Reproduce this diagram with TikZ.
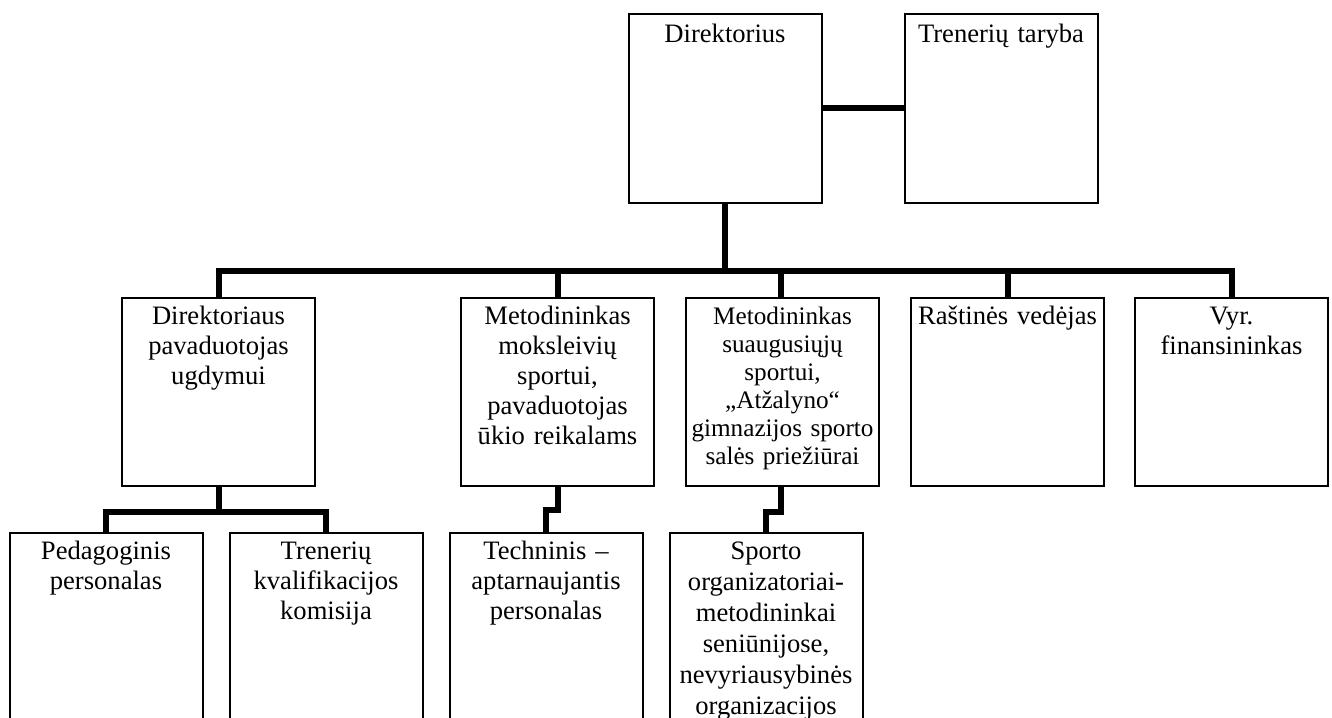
\documentclass[tikz,border=0pt]{standalone}
\usepackage{fontspec}
\setmainfont{Liberation Serif}
\usetikzlibrary{positioning}

\tikzset{
  unitbox/.style={draw, line width=1pt, inner xsep=0pt, inner ysep=0pt,
    text width=96.5pt, align=center, font=\fontsize{13.3}{15}\selectfont},
  topbox/.style={unitbox, text height=14.5pt, text depth=80pt},
  midbox/.style={unitbox, text height=13pt, text depth=81pt},
  lowbox/.style={unitbox, text height=13pt, text depth=97pt},
  link/.style={line width=3pt}
}

\begin{document}
\begin{tikzpicture}[x=0.5pt,y=-0.5pt]
  \useasboundingbox (0,0) rectangle (1332,717);
  \clip (0,0) rectangle (1332,717);

  \node[topbox, anchor=north] (Dir)    at (725,13)      {Direktorius};
  \node[topbox]               (Taryba) [right=40.5pt of Dir] {Trenerių taryba};

  \node[midbox, anchor=north] (Pav)  at (218.5,297)   {Direktoriaus\\ pavaduotojas\\ ugdymui};
  \node[midbox, anchor=north] (Mok)  at (557.5,297)   {Metodininkas\\ moksleivių\\ sportui,\\ pavaduotojas\\ ūkio reikalams};
  \node[midbox, font=\fontsize{12.6}{14}\selectfont]
                              (Sua)  [right=15pt of Mok]   {Metodininkas\\ suaugusiųjų\\ sportui,\\ „Atžalyno“\\ gimnazijos sporto\\ salės priežiūrai};
  \node[midbox]               (Rast) [right=15pt of Sua]   {Raštinės vedėjas};
  \node[midbox]               (Fin)  [right=14.5pt of Rast] {Vyr.\\ finansininkas};

  \node[lowbox, anchor=north] (Ped)  at (106,532)     {Pedagoginis\\ personalas};
  \node[lowbox]               (Kom)  [right=12.5pt of Ped]  {Trenerių\\ kvalifikacijos\\ komisija};
  \node[lowbox]               (Tech) [right=12.5pt of Kom]  {Techninis –\\ aptarnaujantis\\ personalas};
  \node[lowbox, font=\fontsize{13.3}{15.5}\selectfont]
                              (Org)  [right=12.5pt of Tech] {Sporto\\ organizatoriai-\\ metodininkai\\ seniūnijose,\\ nevyriausybinės\\ organizacijos};

  \coordinate (Bus) at (725,271);

  \draw[link] (Dir) -- (Taryba);
  \draw[link] (Dir) -- (Bus);
  \draw[link] (Pav) |- (Bus) -| (Fin);
  \foreach \n in {Mok,Rast}
    \draw[link] (\n) -- (\n |- Bus);
  \draw[link] ([xshift=-1pt]Sua.north) -- ([xshift=-1pt]Sua.north |- Bus);

  \draw[link] (Pav.south) -- ++(0,25) coordinate (Sub);
  \draw[link] (Ped) |- (Sub) -| (Kom);
  \draw[link] (Mok.south) -- ++(0,23) -| (Tech);
  \draw[link] ([xshift=-1pt]Sua.south) -- ++(0,25) -| (Org);
\end{tikzpicture}
\end{document}
